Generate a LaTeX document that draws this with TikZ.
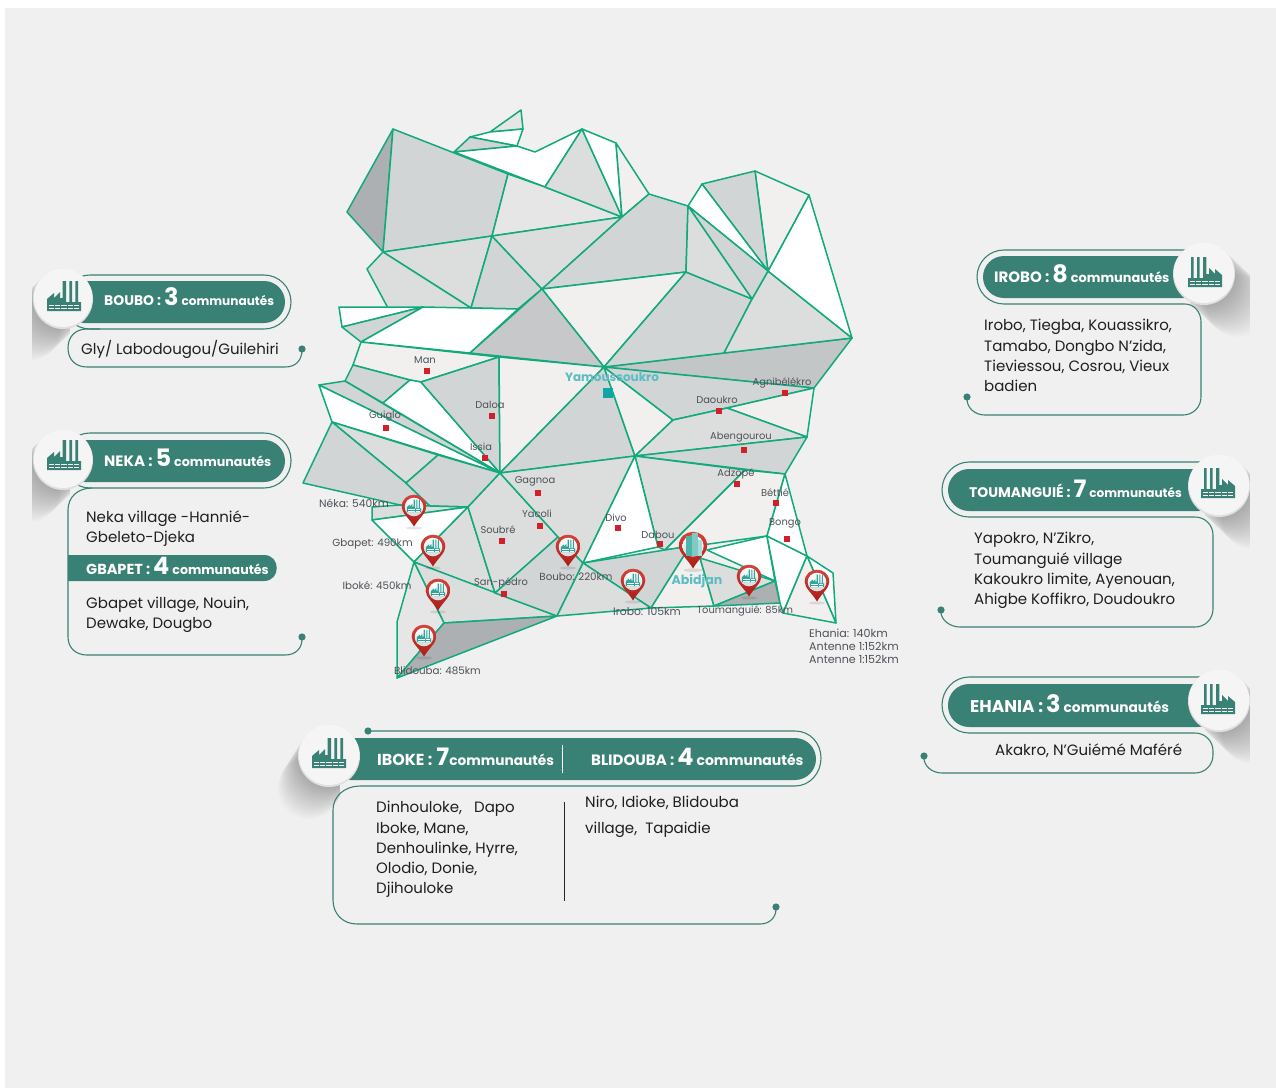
\documentclass[tikz,border=0pt]{standalone}
\usepackage{fontspec}
\setmainfont{Poppins}
\definecolor{pagebg}{HTML}{F0F0F0}
\definecolor{mapgreen}{HTML}{12A97C}
\definecolor{panelteal}{HTML}{3A8175}
\definecolor{cA}{HTML}{D1D5D5}
\definecolor{cB}{HTML}{DCDEDD}
\definecolor{cC}{HTML}{E5E6E5}
\definecolor{cD}{HTML}{ADB0B2}
\definecolor{cE}{HTML}{C6C8CA}
\definecolor{cF}{HTML}{F1F0EF}
\definecolor{cG}{HTML}{C3C6C7}
\definecolor{labelgrey}{HTML}{4D5258}
\definecolor{cityred}{HTML}{D0202A}
\definecolor{capteal}{HTML}{5BBCC4}
\definecolor{squareteal}{HTML}{12A5A5}
\definecolor{icontal}{HTML}{2BA79D}
\definecolor{pintop}{HTML}{D94A3F}
\definecolor{pinbot}{HTML}{A81F18}
\definecolor{pinmid}{HTML}{C4302A}
\definecolor{pinin}{HTML}{D8DBDB}
\tikzset{
  face/.style={draw=mapgreen,line width=1.5pt,line join=round},
  outline/.style={draw=panelteal,line width=1.1pt},
  pill/.style={fill=panelteal},
  maplabel/.style={text=labelgrey,font=\fontsize{9.9}{11.5}\selectfont,inner sep=0pt},
  kmlabel/.style={text=labelgrey,font=\fontsize{10.3}{11.5}\selectfont,inner sep=0pt},
  caplabel/.style={text=capteal,font=\bfseries\fontsize{12}{15}\selectfont,inner sep=0pt},
  body/.style={text=black!88,font=\fontsize{15}{20.2}\selectfont,inner sep=0pt,align=left,anchor=west},
  head/.style={text=white,inner sep=0pt,anchor=west},
}
\newcommand{\headtext}[5]{\bfseries\fontsize{#1}{14}\selectfont #3\hspace{3pt}\fontsize{24}{14}\selectfont #4\hspace{3pt}\fontsize{#2}{14}\selectfont #5}
\newcommand{\citysq}[2]{\fill[cityred] (#1-3,#2-3) rectangle (#1+3,#2+3);}
% factory icon: x, y, xscale, scale, colour, window colour
\newcommand{\factoryicon}[6]{%
\begin{scope}[shift={(#1,#2)},xscale=#3*#4,yscale=#4]
 \fill[#5] (0,30) -- (0,18) -- (7,12) -- (7,17) -- (13,11) -- (13,17) -- (15.7,17) -- (15.7,0) -- (19,0) -- (19,21) -- (22.3,21) -- (22.3,0) -- (25,0) -- (25,21) -- (28.3,21) -- (28.3,0) -- (31,0) -- (31,21) -- (34,21) -- (34,30) -- cycle;
 \foreach \yy in {23.6,26.8}{\foreach \xx in {2,8.2,14.4,20.6,26.8}{\fill[#6] (\xx,\yy) rectangle (\xx+5.2,\yy+1.4);}}
\end{scope}}
% long soft shadow of a disc: cx, cy, r, direction, clip x1, clip x2
\newcommand{\longshadow}[6]{%
\begin{scope}
 \clip (#5,#2-40) rectangle (#6,#2+80);
 \foreach \i in {1,...,34}{\fill[black,opacity=0.0065] (#1+#4*\i,#2+\i*0.95) circle[radius=#3];}
\end{scope}}
\newcommand{\iconbadge}[3]{%
 \fill[black!12] (#1,#2) circle[radius=#3];
 \fill[black!4] (#1,#2-1.2) circle[radius=#3-0.8];}
\newcommand{\pinbody}[3]{%
\begin{scope}[shift={(#1,#2)},scale=#3]
 \fill[black,opacity=0.10] (0,21) ellipse[x radius=8,y radius=1.5];
 \shade[top color=pintop,bottom color=pinbot,middle color=pinmid] (-12.3,0) .. controls (-12.3,6) and (-5,11) .. (0,19.5) .. controls (5,11) and (12.3,6) .. (12.3,0) .. controls (12.3,-16.4) and (-12.3,-16.4) .. (-12.3,0) -- cycle;
 \shade[top color=white,bottom color=pinin] (0,0) circle[radius=9.3];
\end{scope}}
\newcommand{\mappin}[2]{\pinbody{#1}{#2}{1}\factoryicon{#1-7.1}{#2-7.5}{1}{0.42}{icontal}{white}}
\begin{document}
\begin{tikzpicture}[x=1pt,y=-1pt]
\useasboundingbox (0,0) rectangle (1276,1090);
\fill[white] (0,0) rectangle (1276,1090);
\fill[pagebg] (5,8) rectangle (1276,1088);
% ---- map ----
\filldraw[face,fill=cC] (490,132) -- (521,110) -- (523,129) -- cycle;
\filldraw[face,fill=white] (470,137) -- (490,132) -- (523,129) -- (517,146) -- cycle;
\filldraw[face,fill=cA] (454,152) -- (470,137) -- (517,146) -- cycle;
\filldraw[face,fill=white] (454,152) -- (517,146) -- (535,152) -- (582,129) -- (545,187) -- cycle;
\filldraw[face,fill=cD] (393,129) -- (347,212) -- (383,252) -- cycle;
\filldraw[face,fill=cA] (393,129) -- (508,174) -- (492,236) -- (383,252) -- cycle;
\filldraw[face,fill=cC] (508,174) -- (545,187) -- (622,217) -- (492,236) -- cycle;
\filldraw[face,fill=cB] (545,187) -- (582,129) -- (622,217) -- cycle;
\filldraw[face,fill=white] (582,129) -- (616,143) -- (622,217) -- cycle;
\filldraw[face,fill=cF] (616,143) -- (649,194) -- (622,217) -- cycle;
\filldraw[face,fill=cB] (383,252) -- (492,236) -- (471,308) -- cycle;
\filldraw[face,fill=cB] (383,252) -- (367,269) -- (388,308) -- (471,308) -- cycle;
\filldraw[face,fill=cA] (492,236) -- (542,289) -- (518,309) -- (471,308) -- cycle;
\filldraw[face,fill=cB] (492,236) -- (622,217) -- (542,289) -- cycle;
\filldraw[face,fill=cA] (542,289) -- (622,217) -- (649,194) -- (688,206) -- (686,272) -- cycle;
\filldraw[face,fill=cF] (542,289) -- (686,272) -- (604,367) -- cycle;
\filldraw[face,fill=white] (339,307) -- (423,307) -- (342,327) -- cycle;
\filldraw[face,fill=cA] (342,327) -- (423,307) -- (361,342) -- cycle;
\filldraw[face,fill=white] (361,342) -- (423,307) -- (518,309) -- (470,353) -- cycle;
\filldraw[face,fill=cE] (470,353) -- (542,289) -- (604,367) -- cycle;
\filldraw[face,fill=cF] (361,342) -- (499,357) -- (421,382) -- (410,380) -- (353,365) -- cycle;
\filldraw[face,fill=cA] (353,365) -- (410,380) -- (383,403) -- (345,381) -- cycle;
\filldraw[face,fill=cA] (319,385) -- (345,381) -- (500,473) -- cycle;
\filldraw[face,fill=white] (383,403) -- (410,380) -- (421,382) -- (500,473) -- cycle;
\filldraw[face,fill=cA] (421,382) -- (499,357) -- (500,473) -- cycle;
\filldraw[face,fill=cF] (499,357) -- (604,367) -- (500,473) -- cycle;
\filldraw[face,fill=white] (319,385) -- (332,422) -- (500,473) -- cycle;
\filldraw[face,fill=cB] (332,422) -- (438,455) -- (406,483) -- cycle;
\filldraw[face,fill=cA] (332,422) -- (303,483) -- (400,505) -- (430,506) -- (406,483) -- cycle;
\filldraw[face,fill=cA] (438,455) -- (500,473) -- (468,507) -- (430,506) -- (406,483) -- cycle;
\filldraw[face,fill=cB] (372,507) -- (372,520) -- (468,507) -- (430,506) -- (400,505) -- cycle;
\filldraw[face,fill=white] (372,520) -- (468,507) -- (414,562) -- cycle;
\filldraw[face,fill=cB] (468,507) -- (414,562) -- (495,593) -- cycle;
\filldraw[face,fill=cB] (414,562) -- (557,616) -- (444,623) -- cycle;
\filldraw[face,fill=cC] (414,562) -- (397,622) -- (397,678) -- (444,623) -- cycle;
\filldraw[face,fill=cD] (397,678) -- (444,623) -- (557,616) -- cycle;
\filldraw[face,fill=cB] (500,473) -- (468,507) -- (495,593) -- (558,537) -- cycle;
\filldraw[face,fill=cA] (495,593) -- (558,537) -- (583,563) -- (557,616) -- cycle;
\filldraw[face,fill=cA] (604,367) -- (500,473) -- (635,456) -- cycle;
\filldraw[face,fill=cB] (500,473) -- (635,456) -- (583,563) -- (558,537) -- cycle;
\filldraw[face,fill=cF] (604,367) -- (635,456) -- (673,420) -- cycle;
\filldraw[face,fill=cG] (604,367) -- (852,338) -- (814,388) -- cycle;
\filldraw[face,fill=cA] (604,367) -- (686,272) -- (752,299) -- (724,353) -- cycle;
\filldraw[face,fill=cB] (724,353) -- (752,299) -- (768,271) -- (852,338) -- cycle;
\filldraw[face,fill=white] (768,271) -- (809,195) -- (852,338) -- cycle;
\filldraw[face,fill=cF] (755,171) -- (809,195) -- (768,271) -- cycle;
\filldraw[face,fill=cA] (702,184) -- (755,171) -- (768,271) -- cycle;
\filldraw[face,fill=white] (702,184) -- (688,206) -- (768,271) -- cycle;
\filldraw[face,fill=cA] (688,206) -- (768,271) -- (752,299) -- cycle;
\filldraw[face,fill=cB] (688,206) -- (752,299) -- (686,272) -- cycle;
\filldraw[face,fill=cA] (604,367) -- (814,388) -- (727,408) -- (673,420) -- cycle;
\filldraw[face,fill=cF] (727,408) -- (814,388) -- (807,437) -- cycle;
\filldraw[face,fill=cB] (673,420) -- (727,408) -- (807,437) -- (635,456) -- cycle;
\filldraw[face,fill=cA] (635,456) -- (807,437) -- (785,474) -- cycle;
\filldraw[face,fill=cB] (635,456) -- (745,470) -- (665,550) -- (658,547) -- cycle;
\filldraw[face,fill=cF] (745,470) -- (785,474) -- (767,536) -- (665,550) -- cycle;
\filldraw[face,fill=white] (635,456) -- (583,563) -- (658,547) -- cycle;
\filldraw[face,fill=cA] (583,563) -- (690,546) -- (651,608) -- cycle;
\filldraw[face,fill=cB] (583,563) -- (651,608) -- (557,616) -- cycle;
\filldraw[face,fill=cF] (690,546) -- (700,558) -- (714,606) -- (651,608) -- cycle;
\filldraw[face,fill=cB] (700,558) -- (714,606) -- (775,581) -- cycle;
\filldraw[face,fill=cD] (714,606) -- (775,581) -- (780,603) -- cycle;
\filldraw[face,fill=white] (707,550) -- (767,536) -- (775,581) -- cycle;
\filldraw[face,fill=white] (767,536) -- (807,556) -- (783,613) -- (780,603) -- cycle;
\filldraw[face,fill=white] (785,474) -- (807,556) -- (767,536) -- cycle;
\filldraw[face,fill=white] (807,556) -- (833,573) -- (836,623) -- cycle;
\filldraw[face,fill=cF] (807,556) -- (836,623) -- (783,613) -- cycle;
% ---- city squares ----
\citysq{427}{371}\citysq{492}{416}\citysq{386}{428}\citysq{485}{458}
\citysq{538}{493}\citysq{540}{526}\citysq{502}{541}\citysq{504}{594}
\citysq{618}{528}\citysq{660}{544}\citysq{737}{484}\citysq{776}{503}
\citysq{787}{539}\citysq{744}{450}\citysq{719}{411}\citysq{785}{393}
\fill[squareteal] (603,388) rectangle (613,398);
% ---- map labels ----
\node[maplabel] (man) at (425,360) {Man};
\node[maplabel] (daloa) at (490,405) {Daloa};
\node[maplabel] (guiglo) at (385,416) {Guiglo};
\node[maplabel] (issia) at (481,447) {Issia};
\node[maplabel] (gagnoa) at (535,481) {Gagnoa};
\node[maplabel] (yacoli) at (537,514) {Yacoli};
\node[maplabel] (soubre) at (498,530) {Soubré};
\node[kmlabel,font=\fontsize{10.7}{11.5}\selectfont] (neka) at (354,503) {Néka: 540km};
\node[kmlabel] (gbapet) at (372.5,544) {Gbapet: 490km};
\node[kmlabel] (iboke) at (377,586) {Iboké: 450km};
\node[kmlabel] (blidouba) at (437.5,671) {Blidouba: 485km};
\node[maplabel] (sanpedro) at (501,583) {San-pédro};
\node[kmlabel] (boubo) at (576,577) {Boubo: 220km};
\node[maplabel] (divo) at (616,518) {Divo};
\node[maplabel] (dabou) at (658,535) {Dabou};
\node[kmlabel,font=\fontsize{10.8}{11.5}\selectfont] (irobo) at (647,612) {Irobo: 105km};
\node[kmlabel,font=\fontsize{9.9}{11.5}\selectfont] (toumangue) at (745,611) {Toumanguié: 85km};
\node[kmlabel,font=\fontsize{11.1}{11.5}\selectfont,anchor=west,align=left] (ehania) at (809,646) {Ehania: 140km\\[1.6pt]Antenne 1:152km\\[1.6pt]Antenne 1:152km};
\node[maplabel] (bongo) at (785,523) {Bongo};
\node[maplabel] (bettie) at (775,493) {Béttié};
\node[maplabel] (adzope) at (736,474) {Adzopé};
\node[maplabel] (abengourou) at (741,437) {Abengourou};
\node[maplabel] (daoukro) at (717,400) {Daoukro};
\node[maplabel] (agnibilekro) at (782,383) {Agnibélékro};
\node[caplabel] (yamoussoukro) at (612,377) {Yamoussoukro};
\node[caplabel,font=\bfseries\fontsize{12.6}{16}\selectfont] (abidjan) at (697,581) {Abidjan};
% ---- pins ----
\mappin{414}{507}\mappin{433}{547}\mappin{438}{591}\mappin{424}{637}
\mappin{568}{547}\mappin{633}{581}\mappin{749}{577}\mappin{817}{582}
\pinbody{693}{546}{1.15}
\fill[icontal!85] (686,536) rectangle (692,556);
\fill[icontal!60] (692,533) rectangle (698,556);
\fill[icontal!40] (698,540) rectangle (702,556);
% ---- BOUBO ----
\longshadow{63}{299}{30}{-1}{32}{70}
\fill[pill] (63,281) [rounded corners=21pt] rectangle (285,323);
\draw[outline] (63,275) [rounded corners=27pt] rectangle (291,329);
\draw[outline] (100,329) -- (87,329) .. controls (75,329) and (68,337) .. (68,348) .. controls (68,359) and (75,367) .. (87,367) -- (285,367) .. controls (296,367) and (302,360) .. (302,350);
\fill[panelteal] (302,349) circle[radius=3.6];
\iconbadge{63}{299}{30}
\factoryicon{47}{281}{1}{1}{panelteal}{black!4}
\node[head] (bouboh) at (104,297) {\headtext{13.9}{12.1}{BOUBO :}{3}{communautés}};
\node[body] (boubot) at (81,349) {Gly/ Labodougou/Guilehiri};
% ---- NEKA ----
\longshadow{63}{460}{30}{-1}{32}{70}
\fill[pill] (63,440) [rounded corners=21pt] rectangle (285,482);
\draw[outline] (63,433) [rounded corners=27pt] rectangle (291,488);
\draw[outline] (92,488) .. controls (78,488) and (68,497) .. (68,510) -- (68,637) .. controls (68,648) and (76,655) .. (87,655) -- (285,655) .. controls (296,655) and (302,648) .. (302,639);
\fill[panelteal] (302,637) circle[radius=3.6];
\iconbadge{63}{460}{30}
\factoryicon{47}{440}{1}{1}{panelteal}{black!4}
\node[head] (nekah) at (104,458) {\headtext{15}{12.7}{NEKA :}{5}{communautés}};
\node[body] (nekat) at (86,528.5) {Neka village -Hannié-\\Gbeleto-Djeka};
\fill[pill] (68,555) -- (264,555) .. controls (281,555) and (281,581) .. (264,581) -- (68,581) -- cycle;
\node[head] (gbapeth) at (86,566) {\headtext{14.5}{12.6}{GBAPET :}{4}{communautés}};
\node[body] (gbapett) at (86,614.5) {Gbapet village, Nouin,\\Dewake, Dougbo};
% ---- IBOKE / BLIDOUBA ----
\begin{scope}
 \clip (260,716) rectangle (340,840);
 \foreach \i in {1,...,34}{\fill[black,opacity=0.0065] (329-0.6*\i,756+\i*0.95) circle[radius=31];}
\end{scope}
\fill[pill] (329,738) [rounded corners=21pt] rectangle (816,780);
\draw[outline] (368,731) -- (795,731) .. controls (810,731) and (821,743) .. (821,758) .. controls (821,773) and (810,786) .. (795,786) -- (360,786) .. controls (345,786) and (333,796) .. (333,810) -- (333,900) .. controls (333,914) and (343,924) .. (357,924) -- (760,924) .. controls (770,924) and (776,917) .. (776,909);
\fill[panelteal] (368,731) circle[radius=3.6];
\fill[panelteal] (776,907) circle[radius=3.6];
\iconbadge{329}{756}{31}
\factoryicon{312}{738}{1}{1}{panelteal}{black!4}
\draw[white,line width=1pt] (562,745) -- (562,773);
\draw[black!85,line width=1pt] (564,802) -- (564,901);
\node[head] (ibokeh) at (377,757) {\headtext{15.9}{13.7}{IBOKE :}{\hspace{1pt}7\hspace{-3pt}}{communautés}};
\node[head] (blidoubah) at (591,757) {\headtext{15}{14}{BLIDOUBA :}{4}{communautés}};
\node[body] (iboket) at (376,849.5) {Dinhouloke,\ \ \ Dapo\\Iboke, Mane,\\Denhoulinke, Hyrre,\\Olodio, Donie,\\Djihouloke};
\node[body,font=\fontsize{15}{26}\selectfont] (blidoubat) at (585,817) {Niro, Idioke, Blidouba\\village,\ \ Tapaidie};
% ---- IROBO ----
\longshadow{1204}{274}{31}{1}{1190}{1250}
\fill[pill] (983,256) [rounded corners=21pt] rectangle (1204,298);
\draw[outline] (1204,250) -- (1004,250) .. controls (989,250) and (977,262) .. (977,277) .. controls (977,292) and (989,304) .. (1004,304) -- (1185,304) .. controls (1194,304) and (1201,312) .. (1201,322) -- (1201,397) .. controls (1201,407) and (1193,415) .. (1183,415) -- (985,415) .. controls (975,415) and (967,408) .. (967,399);
\fill[panelteal] (967,397) circle[radius=3.6];
\iconbadge{1204}{274}{31}
\factoryicon{1222}{257}{-1}{1}{panelteal}{black!4}
\node[head] (iroboh) at (994,274) {\headtext{15}{12.9}{IROBO :}{8}{communautés}};
\node[body] (irobot) at (984,355.5) {Irobo, Tiegba, Kouassikro,\\Tamabo, Dongbo N'zida,\\Tieviessou, Cosrou, Vieux\\badien};
% ---- TOUMANGUIE ----
\longshadow{1219}{486}{31}{1}{1205}{1250}
\fill[pill] (948,469) [rounded corners=21pt] rectangle (1219,511);
\draw[outline] (1219,462) -- (969,462) .. controls (954,462) and (942,475) .. (942,490) .. controls (942,505) and (954,517) .. (969,517) -- (1195,517) .. controls (1205,517) and (1213,525) .. (1213,535) -- (1213,609) .. controls (1213,619) and (1205,627) .. (1195,627) -- (960,627) .. controls (950,627) and (941,620) .. (941,612);
\fill[panelteal] (941,610) circle[radius=3.6];
\iconbadge{1219}{486}{31}
\factoryicon{1235}{468}{-1}{1}{panelteal}{black!4}
\node[head] (toumh) at (969,489) {\headtext{13.9}{12.1}{TOUMANGUIÉ :}{7}{communautés}};
\node[body] (toumt) at (974,570.5) {Yapokro, N’Zikro,\\Toumanguié village\\Kakoukro limite, Ayenouan,\\Ahigbe Koffikro, Doudoukro};
% ---- EHANIA ----
\longshadow{1219}{701}{31}{1}{1205}{1250}
\fill[pill] (948,684) [rounded corners=21pt] rectangle (1219,727);
\draw[outline] (1219,677) -- (969,677) .. controls (954,677) and (942,690) .. (942,705) .. controls (942,720) and (954,733) .. (969,733) -- (1195,733) .. controls (1205,733) and (1213,741) .. (1213,751) -- (1213,755) .. controls (1213,765) and (1205,773) .. (1195,773) -- (942,773) .. controls (932,773) and (924,766) .. (924,758);
\fill[panelteal] (924,756) circle[radius=3.6];
\iconbadge{1219}{701}{31}
\factoryicon{1235}{684}{-1}{1}{panelteal}{black!4}
\node[head] (ehaniah) at (970,704) {\headtext{17}{13.8}{EHANIA :}{3}{communautés}};
\node[body] (ehaniat) at (995,751) {Akakro, N'Guiémé Maféré};
\end{tikzpicture}
\end{document}
